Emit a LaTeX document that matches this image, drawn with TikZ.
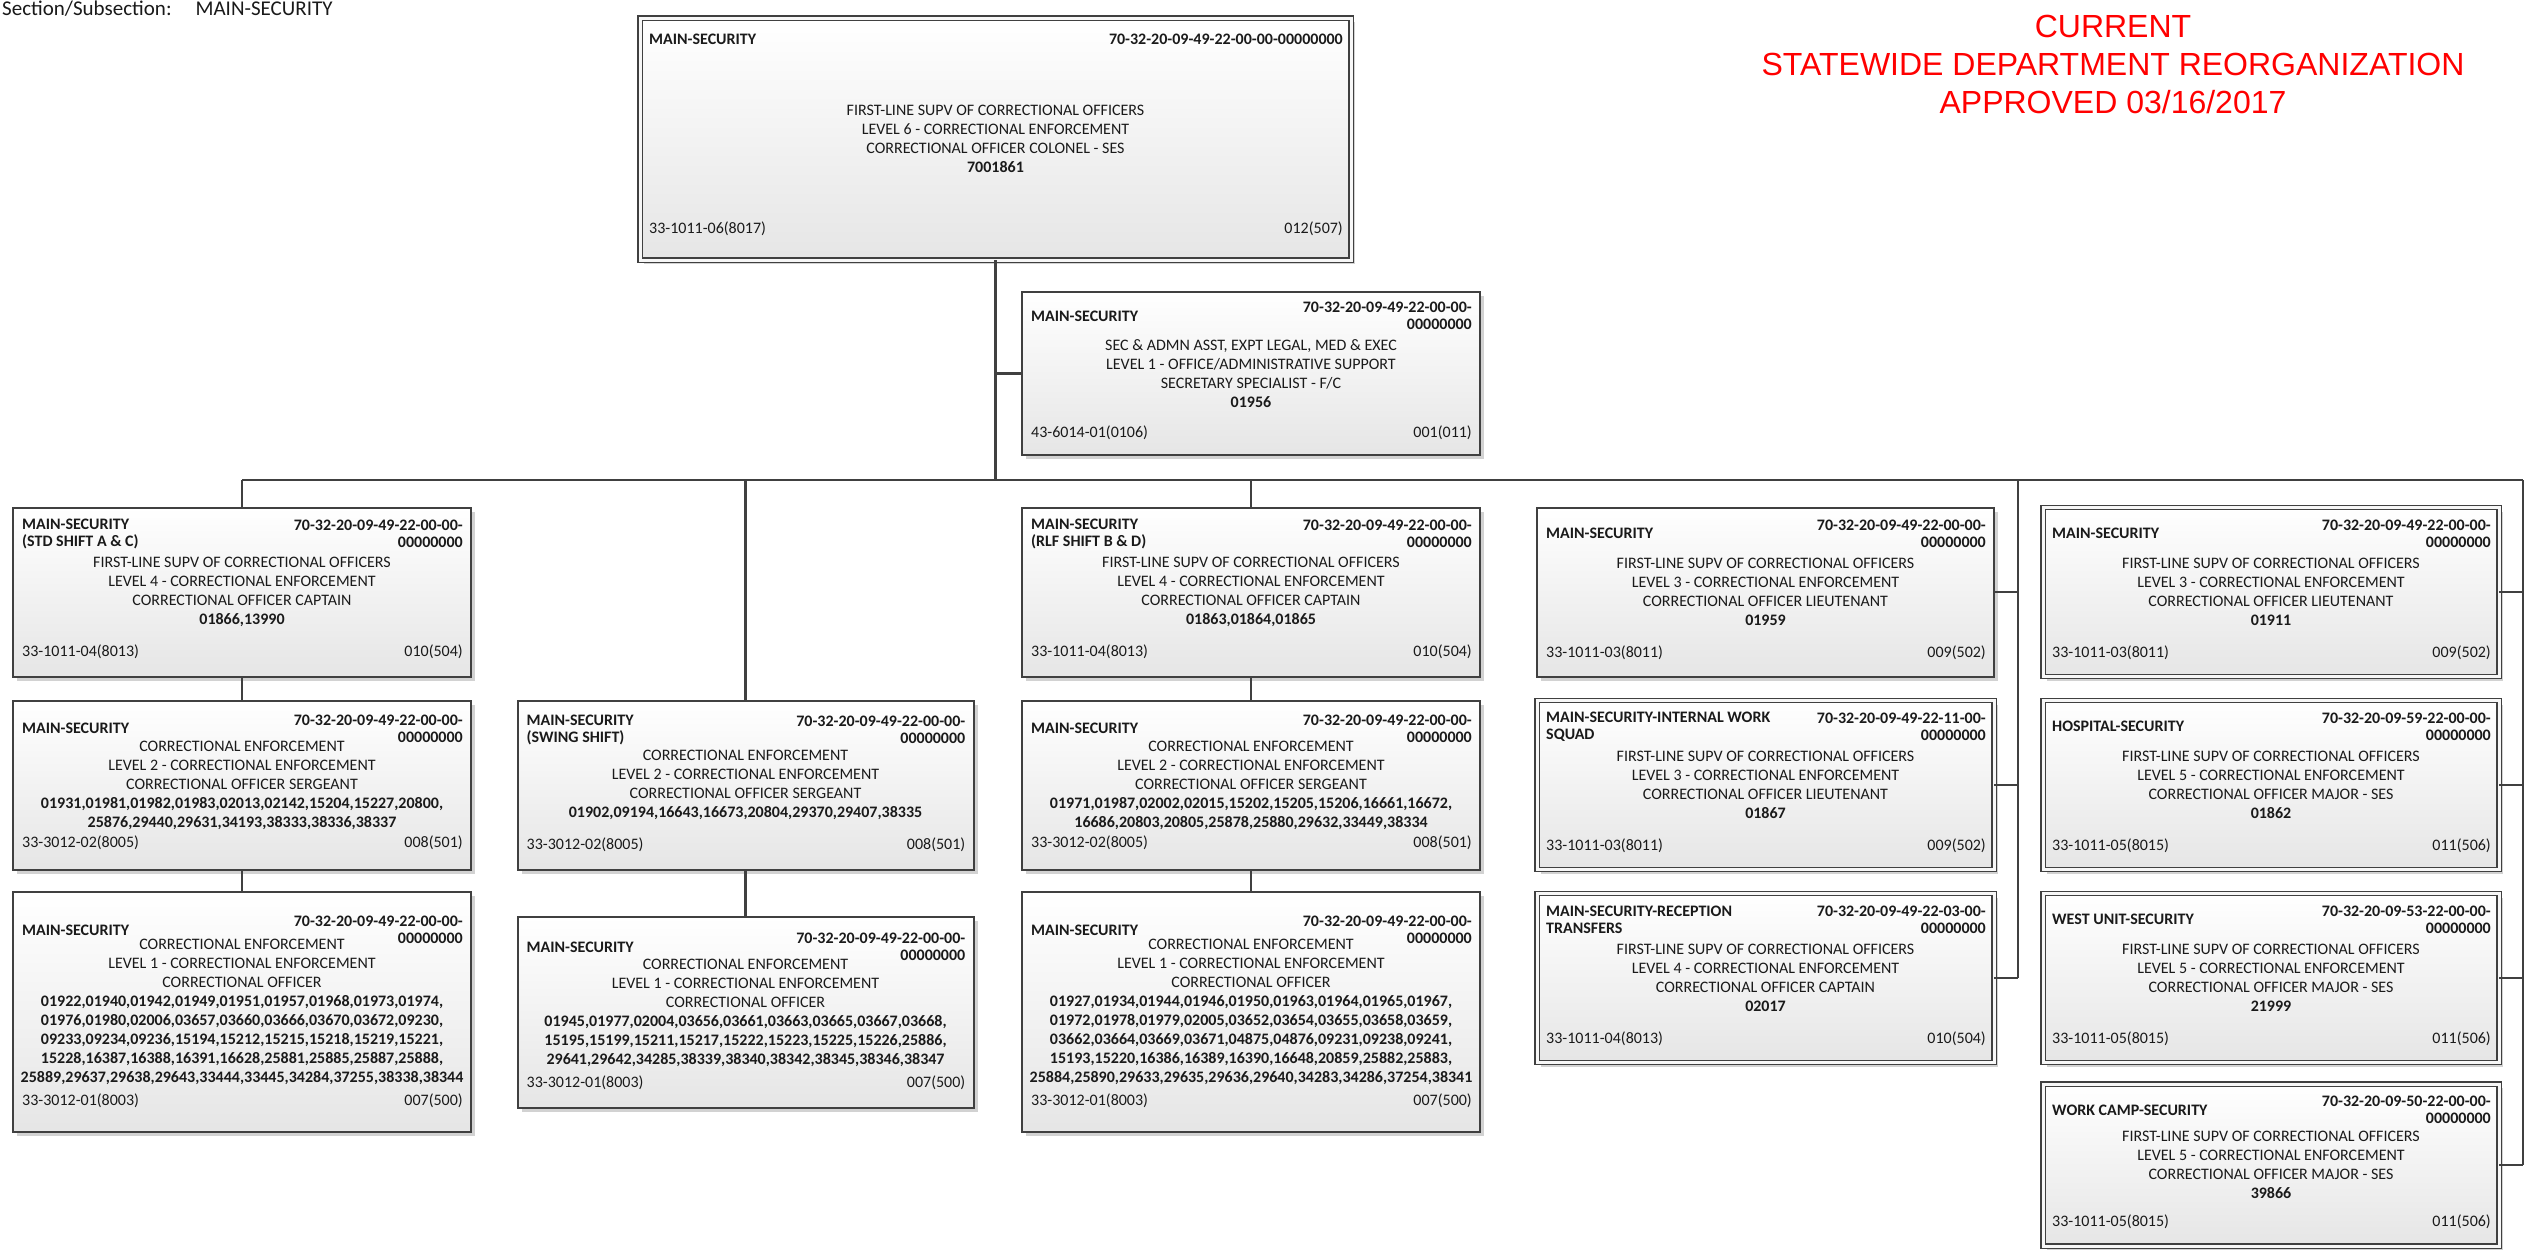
\documentclass[tikz,border=0pt]{standalone}
\usepackage{fontspec}
\setmainfont{Carlito}
\newfontfamily\titlefont{Liberation Sans}
\usetikzlibrary{calc,shadows}
\definecolor{lineclr}{HTML}{404040}
\definecolor{titlered}{HTML}{FF0000}
\definecolor{txtclr}{HTML}{1A1A1A}
\tikzset{
  orgbase/.style={rectangle, draw=lineclr, top color=white, bottom color=black!10,
    inner sep=0pt, outer sep=0pt,
    drop shadow={shadow xshift=4pt, shadow yshift=-4pt, fill=black!35}},
  sbox/.style={orgbase, line width=2pt},
  dbox/.style={orgbase, line width=1.4pt, double=black!3, double distance=3pt},
  conn/.style={draw=lineclr, line width=2.4pt},
  hdr/.style={font=\fontsize{16}{17}\selectfont\bfseries, inner sep=0pt, text=txtclr},
  bodyt/.style={font=\fontsize{16}{19}\selectfont, align=center, inner sep=0pt, text=txtclr},
  ftr/.style={font=\fontsize{16}{19}\selectfont, inner sep=0pt, text=txtclr},
}
% #1 name, #2 header offset, #3 footer offset, #4 left header, #5 right header, #6 body, #7 footer left, #8 footer right
\newcommand{\boxtext}[8]{%
  \node[hdr, anchor=west, align=left] (#1-hl) at ($(#1.north west)+(9,#2)$) {#4};
  \node[hdr, anchor=east, align=right] (#1-hr) at ($(#1.north east)+(-8,#2)$) {#5};
  \node[bodyt] (#1-bd) at (#1.center) {#6};
  \node[ftr, anchor=west] (#1-bl) at ($(#1.south west)+(9,-#3)$) {#7};
  \node[ftr, anchor=east] (#1-br) at ($(#1.south east)+(-8,-#3)$) {#8};
}
\newcommand{\codeA}{70-32-20-09-49-22-00-00-\\00000000}
\newcommand{\supvline}{FIRST-LINE SUPV OF CORRECTIONAL OFFICERS}
\newcommand{\celine}{CORRECTIONAL ENFORCEMENT}
\begin{document}
\begin{tikzpicture}[x=1pt, y=-1pt]
\fill[white] (0,0) rectangle (2534,1250);
\useasboundingbox (0,0) rectangle (2534,1250);

% section label and title
\node[anchor=base west, font=\fontsize{21}{24}\selectfont, inner sep=0pt, text=txtclr] (sect) at (2,15) {Section/Subsection:\hspace{24pt}MAIN-SECURITY};
\node[font=\titlefont\fontsize{32}{38}\selectfont, text=titlered, align=center, inner sep=0pt] (title) at (2113,64)
  {CURRENT\\STATEWIDE DEPARTMENT REORGANIZATION\\APPROVED 03/16/2017};

% boxes
\node[dbox, minimum width=711pt, minimum height=242pt] (top) at (995.5,139) {};
\node[sbox, minimum width=458pt, minimum height=163pt] (sec) at (1251,373.5) {};

\node[sbox, minimum width=458pt, minimum height=169pt] (a1) at (242,592) {};
\node[sbox, minimum width=458pt, minimum height=169pt] (a2) at (242,785) {};
\node[sbox, minimum width=458pt, minimum height=240pt] (a3) at (242,1012) {};

\node[sbox, minimum width=456pt, minimum height=169pt] (b1) at (745.5,785) {};
\node[sbox, minimum width=456pt, minimum height=191pt] (b2) at (745.5,1012.5) {};

\node[sbox, minimum width=458pt, minimum height=169pt] (c1) at (1251,592) {};
\node[sbox, minimum width=458pt, minimum height=169pt] (c2) at (1251,785) {};
\node[sbox, minimum width=458pt, minimum height=240pt] (c3) at (1251,1012) {};

\node[sbox, minimum width=457pt, minimum height=169pt] (d1) at (1765.5,592) {};
\node[dbox, minimum width=457pt, minimum height=169pt] (d2) at (1765.5,785) {};
\node[dbox, minimum width=457pt, minimum height=169pt] (d3) at (1765.5,978) {};

\node[dbox, minimum width=456pt, minimum height=169pt] (e1) at (2271,592) {};
\node[dbox, minimum width=456pt, minimum height=169pt] (e2) at (2271,785) {};
\node[dbox, minimum width=456pt, minimum height=169pt] (e3) at (2271,978) {};
\node[dbox, minimum width=456pt, minimum height=162pt] (e4) at (2271,1165) {};

% connectors
\coordinate (bus) at (0,480);
\coordinate (dline) at (2018,480);
\coordinate (eline) at (2523,480);
\draw[conn] (top.south) -- (top.south |- bus);
\draw[conn] (top.south |- sec.west) -- (sec.west);
\draw[conn] (a1.north |- bus) -- (eline);
\draw[conn] (a1.north |- bus) -- (a1.north);
\draw[conn] (b1.north |- bus) -- (b1.north);
\draw[conn] (c1.north |- bus) -- (c1.north);
\draw[conn] (a1.south) -- (a2.north);
\draw[conn] (a2.south) -- (a3.north);
\draw[conn] (b1.south) -- (b2.north);
\draw[conn] (c1.south) -- (c2.north);
\draw[conn] (c2.south) -- (c3.north);
\draw[conn] (dline) -- (dline |- d3.east);
\draw[conn] (d1.east) -- (d1.east -| dline);
\draw[conn] (d2.east) -- (d2.east -| dline);
\draw[conn] (d3.east) -- (d3.east -| dline);
\draw[conn] (eline) -- (eline |- e4.east);
\draw[conn] (e1.east) -- (e1.east -| eline);
\draw[conn] (e2.east) -- (e2.east -| eline);
\draw[conn] (e3.east) -- (e3.east -| eline);
\draw[conn] (e4.east) -- (e4.east -| eline);

% texts
\boxtext{top}{21}{31}{MAIN-SECURITY}{70-32-20-09-49-22-00-00-00000000}
  {\supvline\\LEVEL 6 - \celine\\CORRECTIONAL OFFICER COLONEL - SES\\\textbf{7001861}}
  {33-1011-06(8017)}{012(507)}
\boxtext{sec}{24}{22}{MAIN-SECURITY}{\codeA}
  {SEC \& ADMN ASST, EXPT LEGAL, MED \& EXEC\\LEVEL 1 - OFFICE/ADMINISTRATIVE SUPPORT\\SECRETARY SPECIALIST - F/C\\\textbf{01956}}
  {43-6014-01(0106)}{001(011)}

\boxtext{a1}{26}{25}{MAIN-SECURITY\\(STD SHIFT A \& C)}{\codeA}
  {\supvline\\LEVEL 4 - \celine\\CORRECTIONAL OFFICER CAPTAIN\\\textbf{01866,13990}}
  {33-1011-04(8013)}{010(504)}
\boxtext{a2}{28}{27}{MAIN-SECURITY}{\codeA}
  {\celine\\LEVEL 2 - \celine\\CORRECTIONAL OFFICER SERGEANT\\
   \textbf{01931,01981,01982,01983,02013,02142,15204,15227,20800,}\\
   \textbf{25876,29440,29631,34193,38333,38336,38337}}
  {33-3012-02(8005)}{008(501)}
\boxtext{a3}{38}{31}{MAIN-SECURITY}{\codeA}
  {\celine\\LEVEL 1 - \celine\\CORRECTIONAL OFFICER\\
   \textbf{01922,01940,01942,01949,01951,01957,01968,01973,01974,}\\
   \textbf{01976,01980,02006,03657,03660,03666,03670,03672,09230,}\\
   \textbf{09233,09234,09236,15194,15212,15215,15218,15219,15221,}\\
   \textbf{15228,16387,16388,16391,16628,25881,25885,25887,25888,}\\
   \textbf{25889,29637,29638,29643,33444,33445,34284,37255,38338,38344}}
  {33-3012-01(8003)}{007(500)}

\boxtext{b1}{29}{25}{MAIN-SECURITY\\(SWING SHIFT)}{\codeA}
  {\celine\\LEVEL 2 - \celine\\CORRECTIONAL OFFICER SERGEANT\\
   \textbf{01902,09194,16643,16673,20804,29370,29407,38335}}
  {33-3012-02(8005)}{008(501)}
\boxtext{b2}{30}{25}{MAIN-SECURITY}{\codeA}
  {\celine\\LEVEL 1 - \celine\\CORRECTIONAL OFFICER\\
   \textbf{01945,01977,02004,03656,03661,03663,03665,03667,03668,}\\
   \textbf{15195,15199,15211,15217,15222,15223,15225,15226,25886,}\\
   \textbf{29641,29642,34285,38339,38340,38342,38345,38346,38347}}
  {33-3012-01(8003)}{007(500)}

\boxtext{c1}{26}{25}{MAIN-SECURITY\\(RLF SHIFT B \& D)}{\codeA}
  {\supvline\\LEVEL 4 - \celine\\CORRECTIONAL OFFICER CAPTAIN\\\textbf{01863,01864,01865}}
  {33-1011-04(8013)}{010(504)}
\boxtext{c2}{28}{27}{MAIN-SECURITY}{\codeA}
  {\celine\\LEVEL 2 - \celine\\CORRECTIONAL OFFICER SERGEANT\\
   \textbf{01971,01987,02002,02015,15202,15205,15206,16661,16672,}\\
   \textbf{16686,20803,20805,25878,25880,29632,33449,38334}}
  {33-3012-02(8005)}{008(501)}
\boxtext{c3}{38}{31}{MAIN-SECURITY}{\codeA}
  {\celine\\LEVEL 1 - \celine\\CORRECTIONAL OFFICER\\
   \textbf{01927,01934,01944,01946,01950,01963,01964,01965,01967,}\\
   \textbf{01972,01978,01979,02005,03652,03654,03655,03658,03659,}\\
   \textbf{03662,03664,03669,03671,04875,04876,09231,09238,09241,}\\
   \textbf{15193,15220,16386,16389,16390,16648,20859,25882,25883,}\\
   \textbf{25884,25890,29633,29635,29636,29640,34283,34286,37254,38341}}
  {33-3012-01(8003)}{007(500)}

\boxtext{d1}{26}{24}{MAIN-SECURITY}{\codeA}
  {\supvline\\LEVEL 3 - \celine\\CORRECTIONAL OFFICER LIEUTENANT\\\textbf{01959}}
  {33-1011-03(8011)}{009(502)}
\boxtext{d2}{26}{24}{MAIN-SECURITY-INTERNAL WORK\\SQUAD}{70-32-20-09-49-22-11-00-\\00000000}
  {\supvline\\LEVEL 3 - \celine\\CORRECTIONAL OFFICER LIEUTENANT\\\textbf{01867}}
  {33-1011-03(8011)}{009(502)}
\boxtext{d3}{26}{24}{MAIN-SECURITY-RECEPTION\\TRANSFERS}{70-32-20-09-49-22-03-00-\\00000000}
  {\supvline\\LEVEL 4 - \celine\\CORRECTIONAL OFFICER CAPTAIN\\\textbf{02017}}
  {33-1011-04(8013)}{010(504)}

\boxtext{e1}{26}{24}{MAIN-SECURITY}{\codeA}
  {\supvline\\LEVEL 3 - \celine\\CORRECTIONAL OFFICER LIEUTENANT\\\textbf{01911}}
  {33-1011-03(8011)}{009(502)}
\boxtext{e2}{26}{24}{HOSPITAL-SECURITY}{70-32-20-09-59-22-00-00-\\00000000}
  {\supvline\\LEVEL 5 - \celine\\CORRECTIONAL OFFICER MAJOR - SES\\\textbf{01862}}
  {33-1011-05(8015)}{011(506)}
\boxtext{e3}{26}{24}{WEST UNIT-SECURITY}{70-32-20-09-53-22-00-00-\\00000000}
  {\supvline\\LEVEL 5 - \celine\\CORRECTIONAL OFFICER MAJOR - SES\\\textbf{21999}}
  {33-1011-05(8015)}{011(506)}
\boxtext{e4}{26}{24}{WORK CAMP-SECURITY}{70-32-20-09-50-22-00-00-\\00000000}
  {\supvline\\LEVEL 5 - \celine\\CORRECTIONAL OFFICER MAJOR - SES\\\textbf{39866}}
  {33-1011-05(8015)}{011(506)}
\end{tikzpicture}
\end{document}
